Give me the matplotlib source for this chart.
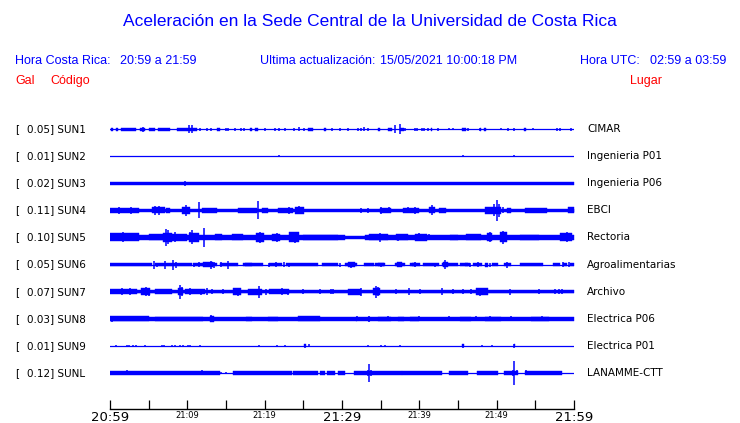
import matplotlib.pyplot as plt

# Stations, top to bottom
codes = ['SUN1', 'SUN2', 'SUN3', 'SUN4', 'SUN5', 'SUN6', 'SUN7', 'SUN8', 'SUN9', 'SUNL']
peaks = [0.05, 0.01, 0.02, 0.11, 0.10, 0.05, 0.07, 0.03, 0.01, 0.12]
places = ['CIMAR', 'Ingenieria P01', 'Ingenieria P06', 'EBCI', 'Rectoria',
          'Agroalimentarias', 'Archivo', 'Electrica P06', 'Electrica P01', 'LANAMME-CTT']

# time axis, minutes after 20:59
major_minutes = [0, 10, 20, 30, 40, 50, 60]
major_labels = ['20:59', '21:09', '21:19', '21:29', '21:39', '21:49', '21:59']
big_labels = ['20:59', '21:29', '21:59']
minor_minutes = [5, 15, 25, 35, 45, 55]

# envelope of each trace
# bands: (start minute, end minute, half amplitude), spikes: (minute, half amplitude)
bands = [
    [(0.1, 0.4, 1.5), (0.8, 1.0, 1.5), (1.4, 3.4, 1.5), (3.9, 4.5, 1.5), (5.0, 5.8, 1.5),
     (6.2, 7.8, 1.5), (8.6, 9.9, 1.5), (10.0, 11.2, 1.5), (13.9, 14.2, 1.5), (18.1, 18.3, 1.5),
     (18.8, 19.1, 1.5), (25.6, 26.2, 1.5), (27.7, 27.9, 1.5), (34.6, 34.9, 1.5), (35.9, 36.5, 1.5),
     (37.5, 38.0, 1.5), (41.5, 41.7, 1.5), (45.5, 46.0, 1.5), (47.8, 48.0, 1.5), (48.4, 48.6, 1.5),
     (53.5, 53.8, 1.5)],
    [],
    [(0, 60, 1.7)],
    [(0, 60, 1.8), (0.0, 3.7, 2.8), (5.4, 7.1, 3.0), (7.3, 7.7, 2.5), (9.3, 10.3, 3.5),
     (11.9, 13.8, 2.5), (16.5, 19.0, 2.2), (19.6, 20.4, 2.5), (21.7, 23.6, 2.5), (23.9, 25.1, 3.2),
     (34.9, 36.4, 2.8), (37.9, 39.9, 2.5), (41.2, 42.0, 3.0), (42.6, 43.4, 2.2), (48.5, 50.6, 3.2),
     (51.4, 51.9, 2.5), (53.6, 56.5, 2.2), (59.2, 60.0, 3.0)],
    [(0, 30.4, 2.3), (30.4, 33.0, 1.5), (33.0, 60, 2.3), (0.0, 3.7, 4.0), (5.0, 6.8, 3.0),
     (6.9, 8.0, 4.5), (8.0, 10.0, 3.5), (10.2, 11.5, 4.5), (13.6, 14.5, 3.0), (15.8, 17.2, 3.0),
     (18.9, 19.9, 4.8), (21.0, 22.0, 3.8), (23.2, 24.5, 5.0), (25.0, 29.5, 2.7), (33.5, 36.0, 3.0),
     (37.0, 38.5, 3.0), (39.5, 41.0, 3.5), (44.0, 45.0, 2.8), (46.0, 48.0, 3.0), (48.8, 49.4, 4.0),
     (50.4, 51.3, 5.0), (53.0, 55.5, 2.8), (58.2, 59.8, 4.0)],
    [(0, 5.4, 1.3), (5.8, 10.6, 1.3), (10.7, 13.8, 1.3), (14.2, 16.6, 1.3), (17.2, 19.8, 1.3),
     (20.5, 22.2, 1.3), (22.8, 26.9, 1.3), (27.4, 29.5, 1.3), (30.4, 31.9, 1.3), (32.8, 34.1, 1.3),
     (34.3, 35.6, 1.3), (36.9, 38.1, 1.3), (38.8, 40.1, 1.3), (40.5, 42.5, 1.3), (42.9, 45.0, 1.3),
     (45.3, 46.6, 1.3), (47.0, 48.1, 1.3), (49.4, 50.2, 1.3), (50.9, 51.9, 1.3), (53.0, 56.0, 1.3),
     (57.3, 58.2, 1.3), (58.6, 59.1, 1.3), (59.5, 60.0, 1.3),
     (12.0, 13.3, 2.2), (17.5, 18.4, 1.8), (30.8, 31.7, 2.5), (34.6, 35.4, 1.8), (37.1, 37.8, 2.2),
     (39.0, 39.6, 1.8), (43.1, 43.7, 2.2), (45.9, 46.3, 1.8), (48.5, 48.9, 2.0)],
    [(0, 60, 1.8), (0.0, 3.5, 2.7), (4.0, 5.2, 3.5), (5.8, 8.0, 2.5), (8.8, 9.5, 3.5),
     (9.7, 12.3, 2.5), (15.9, 17.0, 3.5), (17.9, 19.7, 3.0), (20.5, 23.2, 2.5), (30.8, 32.5, 3.0),
     (34.0, 34.9, 3.5), (47.3, 48.9, 3.5)],
    [(0, 60, 1.8), (0.0, 5.0, 2.3), (5.8, 12.0, 2.1), (12.9, 13.4, 3.0), (17.6, 18.3, 2.2),
     (20.4, 21.7, 2.2), (24.3, 27.1, 2.3), (31.8, 32.0, 2.2), (33.3, 33.6, 2.2), (34.6, 36.4, 2.0),
     (37.3, 38.0, 2.2), (38.8, 40.0, 2.1), (45.3, 46.7, 2.0), (48.5, 50.6, 2.0), (54.5, 56.8, 2.0)],
    [(25.1, 25.4, 1.6), (45.5, 45.8, 1.6), (52.2, 52.4, 1.4)],
    [(0, 14.2, 1.7), (15.9, 23.5, 1.7), (23.7, 26.9, 1.7), (27.2, 27.8, 1.7), (28.0, 29.1, 1.7),
     (29.5, 30.4, 1.7), (31.6, 37.7, 1.7), (37.8, 42.9, 1.7), (43.8, 46.3, 1.7), (47.4, 50.2, 1.7),
     (50.9, 52.8, 1.7), (53.6, 58.4, 1.7)],
]

spikes = [
    [(4.3, 2.5), (10.26, 4.3), (10.65, 4.0), (11.6, 1.5), (12.5, 1.5), (13.1, 1.5), (15.0, 1.5),
     (15.3, 1.5), (16.1, 1.5), (17.0, 1.5), (17.3, 1.5), (20.0, 1.5), (21.3, 1.5), (21.8, 1.5),
     (22.6, 1.5), (23.8, 1.5), (24.4, 1.8), (25.1, 1.5), (28.7, 1.5), (29.7, 1.5), (30.8, 1.5),
     (32.1, 1.5), (32.4, 1.5), (32.8, 1.8), (33.3, 1.5), (36.85, 4.3), (37.46, 5.3), (38.1, 1.5),
     (39.5, 1.5), (39.7, 1.5), (40.4, 1.5), (40.6, 1.5), (41.1, 1.5), (42.4, 1.5), (43.9, 1.2),
     (44.4, 1.2), (46.3, 1.5), (47.9, 1.5), (50.6, 1.2), (51.5, 1.5), (52.3, 1.5), (54.7, 1.2),
     (57.8, 1.5), (58.2, 1.5), (59.6, 1.5)],
    [(21.9, 1.3), (45.7, 1.2), (52.3, 1.2)],
    [(9.7, 2.5)],
    [(1.2, 3.5), (2.7, 3.5), (5.8, 4.5), (6.4, 4.5), (9.8, 5.5), (11.55, 8.0), (19.1, 9.0),
     (23.2, 3.5), (24.4, 4.0), (32.5, 2.5), (33.4, 2.5), (35.0, 3.5), (36.1, 3.0), (38.5, 3.0),
     (39.4, 3.5), (41.6, 5.0), (49.6, 6.0), (50.0, 10.5), (50.3, 6.5), (50.8, 3.0)],
    [(1.7, 5.0), (2.4, 4.0), (7.2, 8.5), (7.5, 7.0), (8.4, 5.0), (10.3, 5.0), (10.6, 7.0),
     (12.1, 9.5), (19.4, 5.5), (21.6, 4.5), (23.9, 5.5), (34.9, 4.5), (37.3, 3.5), (40.0, 4.0),
     (41.3, 3.0), (49.1, 5.0), (50.8, 6.5), (59.1, 5.0)],
    [(5.7, 4.0), (6.1, 2.0), (7.1, 4.0), (8.2, 5.0), (8.5, 3.0), (10.8, 2.0), (11.5, 2.5),
     (13.1, 4.0), (13.5, 3.0), (14.4, 2.5), (15.2, 4.0), (20.5, 2.0), (21.5, 2.2), (22.5, 2.5),
     (23.1, 2.0), (29.8, 2.0), (31.2, 3.0), (35.0, 2.0), (37.5, 2.5), (39.4, 2.5), (42.0, 2.0),
     (43.3, 4.5), (46.5, 2.0), (47.6, 2.5), (49.2, 2.0), (51.3, 3.0), (58.6, 2.5), (59.3, 2.5)],
    [(1.5, 3.5), (2.6, 3.5), (4.7, 4.5), (5.0, 4.0), (9.0, 7.0), (9.3, 4.5), (10.4, 3.5),
     (11.8, 3.0), (12.6, 3.5), (13.2, 2.5), (14.6, 2.5), (16.6, 4.0), (19.3, 6.0), (20.2, 3.0),
     (22.2, 3.5), (23.0, 3.0), (25.0, 2.5), (27.1, 2.5), (28.6, 2.5), (28.9, 2.5), (31.0, 2.5),
     (32.4, 4.0), (34.4, 6.0), (34.7, 4.5), (37.0, 2.5), (38.6, 3.5), (40.1, 2.5), (42.9, 3.5),
     (44.4, 2.5), (45.6, 2.5), (46.7, 2.5), (47.8, 4.0), (48.5, 3.5), (51.7, 3.0), (55.5, 2.5),
     (57.5, 2.5), (58.0, 2.5), (58.5, 2.5)],
    [(0.3, 2.8), (2.6, 2.6), (4.5, 2.6), (13.1, 3.5), (25.3, 2.6), (31.9, 2.6), (33.5, 2.8),
     (36.0, 2.6), (39.9, 2.6), (43.9, 2.4), (47.3, 2.4), (49.2, 2.4), (51.8, 2.4), (55.8, 2.4)],
    [(0.8, 1.3), (2.2, 1.0), (2.5, 1.0), (3.0, 1.2), (3.4, 1.0), (4.5, 1.2), (6.7, 1.2),
     (7.0, 1.0), (8.0, 1.0), (8.4, 1.0), (9.0, 1.3), (9.5, 1.3), (10.1, 1.3), (10.4, 1.0),
     (11.6, 1.0), (19.3, 1.3), (21.6, 1.3), (22.6, 1.3), (25.2, 1.8), (25.7, 1.5), (33.4, 1.0),
     (35.0, 1.3), (35.6, 1.3), (37.5, 1.2), (45.6, 1.8), (48.1, 1.2), (49.4, 1.0), (52.3, 1.8)],
    [(2.2, 2.5), (11.9, 2.5), (14.4, 1.3), (15.0, 1.3), (17.2, 2.0), (33.3, 3.0), (33.5, 9.3),
     (33.7, 3.0), (52.1, 3.0), (52.3, 11.8), (52.6, 2.5), (53.8, 2.5)],
]

W, H = 740, 423
fig = plt.figure(figsize=(7.4, 4.23), dpi=100)
ax = fig.add_axes([110 / W, (H - 409) / H, 464 / W, 294 / H])

gain = 1 / 27.1  # trace amplitude scale (row spacing = 1)
for i in range(len(codes)):
    ax.plot([0, 60], [i, i], color='blue', lw=0.9)
    for s, e, h in bands[i]:
        ax.fill_between([s, e], i - h * gain, i + h * gain, color='blue', lw=0.3)
    for m, h in spikes[i]:
        ax.vlines(m, i - h * gain, i + h * gain, color='blue', lw=1.1)

ax.set_xlim(0, 60)
ax.set_ylim(10.33, -0.517)
for side in ['top', 'left', 'right']:
    ax.spines[side].set_visible(False)
ax.spines['bottom'].set_linewidth(1.0)
ax.set_yticks([])
ax.set_xticks(major_minutes, major_labels)
ax.set_xticks(minor_minutes, minor=True)
ax.tick_params(axis='x', which='both', direction='in', length=6.5, width=0.9, pad=1.5)
for lab in ax.get_xticklabels():
    if lab.get_text() in big_labels:
        lab.set_fontsize(9.5)
    else:
        lab.set_fontsize(6)

# station labels
for i in range(len(codes)):
    y = 1 - (129 + 27.1 * i) / H
    fig.text(15 / W, y, '[', fontsize=7.5, va='center', ha='left')
    fig.text(27 / W, y, f'{peaks[i]:.2f}] {codes[i]}', fontsize=7.5, va='center', ha='left')
    fig.text(587 / W, y, places[i], fontsize=7.5, va='center', ha='left')

# header
hdr = dict(family='Liberation Sans', va='center', ha='left')
fig.text(370 / W, 1 - 22 / H, 'Aceleración en la Sede Central de la Universidad de Costa Rica',
         color='blue', fontsize=12.5, family='Liberation Sans', va='center', ha='center')
fig.text(15 / W, 1 - 61 / H, 'Hora Costa Rica:', color='blue', fontsize=9, **hdr)
fig.text(120 / W, 1 - 61 / H, '20:59 a 21:59', color='blue', fontsize=9, **hdr)
fig.text(260 / W, 1 - 61 / H, 'Ultima actualización:', color='blue', fontsize=9, **hdr)
fig.text(380 / W, 1 - 61 / H, '15/05/2021 10:00:18 PM', color='blue', fontsize=9, **hdr)
fig.text(580 / W, 1 - 61 / H, 'Hora UTC:', color='blue', fontsize=9, **hdr)
fig.text(650 / W, 1 - 61 / H, '02:59 a 03:59', color='blue', fontsize=9, **hdr)
fig.text(15 / W, 1 - 81 / H, 'Gal', color='red', fontsize=9, **hdr)
fig.text(50 / W, 1 - 81 / H, 'Código', color='red', fontsize=9, **hdr)
fig.text(630 / W, 1 - 81 / H, 'Lugar', color='red', fontsize=9, **hdr)

fig.savefig('out.png', dpi=100)
